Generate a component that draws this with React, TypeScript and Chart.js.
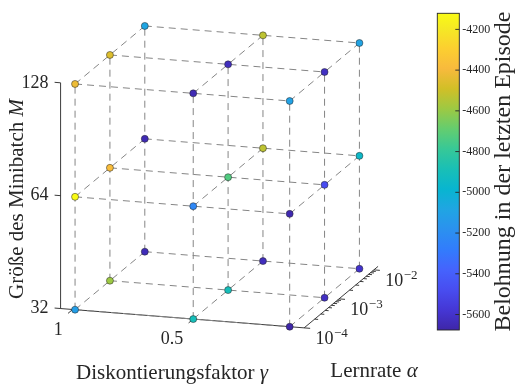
import React, { useEffect, useRef } from "react";
import { Chart, registerables } from "chart.js";
Chart.register(...registerables);

// ---------------- data ----------------
const GAMMA = [0.99, 0.5, 0.1];
const ALPHA = [1e-4, 1e-3, 1e-2];
const BATCH = [32, 64, 128];
// reward, ordered gamma-major then alpha (g0a0, g0a1, g0a2, g1a0, ...)
const REWARD_M32 = [-5120, -4590, -5640, -4900, -4900, -5630, -5676, -5620, -5600];
const REWARD_M64 = [-4121, -4380, -5650, -5230, -4730, -4530, -5660, -5480, -4950];
const REWARD_M128 = [-4420, -4460, -5080, -5650, -5630, -4530, -5100, -5620, -5090];
const REWARD_BY_BATCH = [REWARD_M32, REWARD_M64, REWARD_M128];

const GAMMA_TICKS = [1, 0.5];
const GAMMA_TICK_LABELS = ["1", "0.5"];
const ALPHA_TICKS = [1e-4, 1e-3, 1e-2];
const ALPHA_TICK_EXP = ["\u22124", "\u22123", "\u22122"];
const BATCH_TICKS = [32, 64, 128];
const CBAR_TICKS = [-5600, -5400, -5200, -5000, -4800, -4600, -4400, -4200];
const CBAR_MIN = -5676;
const CBAR_MAX = -4121;

// ---------------- axes geometry ----------------
const G_LIM = [0.04, 1.05];
const A_LIM = [-4, -1.88]; // log10
const M_LIM = [5, 7]; // log2
const ORIGIN = { x: 57, y: 311.3 }; // corner at (gamma max, alpha min, M min)
const G_DIR = { x: 245.5, y: 19.6 }; // per unit of gamma decrease
const A_DIR = { x: 35.5, y: -29.7 }; // per decade of alpha
const M_DIR = { x: 0, y: -115.6 }; // per octave of M

const W = 519;
const H = 389;
const SERIF = "'Liberation Serif', 'Times New Roman', serif";
const TXT = "#262626";

function project(g: number, a: number, m: number) {
  const dg = G_LIM[1] - g;
  const da = Math.log10(a) - A_LIM[0];
  const dm = Math.log2(m) - M_LIM[0];
  return {
    x: ORIGIN.x + dg * G_DIR.x + da * A_DIR.x + dm * M_DIR.x,
    y: ORIGIN.y + dg * G_DIR.y + da * A_DIR.y + dm * M_DIR.y,
  };
}

const PARULA: [number, number, number, number][] = [
  [0, 0.2422, 0.1504, 0.6603],
  [4, 0.2706, 0.2147, 0.8364],
  [8, 0.2813, 0.3006, 0.9414],
  [12, 0.2699, 0.3892, 0.9906],
  [16, 0.1963, 0.4847, 0.9892],
  [20, 0.1687, 0.5703, 0.9359],
  [24, 0.1248, 0.6459, 0.8883],
  [28, 0.0297, 0.7082, 0.8163],
  [32, 0.0964, 0.75, 0.712],
  [36, 0.2161, 0.7843, 0.5923],
  [40, 0.3909, 0.8029, 0.4354],
  [44, 0.6174, 0.7876, 0.2612],
  [48, 0.8203, 0.7498, 0.1535],
  [52, 0.9728, 0.7298, 0.2394],
  [56, 0.9892, 0.8136, 0.1885],
  [60, 0.9597, 0.9135, 0.1423],
  [63, 0.9769, 0.9839, 0.0805],
];

function parula(t: number) {
  const s = Math.max(0, Math.min(1, t)) * 63;
  for (let i = 0; i < PARULA.length - 1; i++) {
    const a = PARULA[i];
    const b = PARULA[i + 1];
    if (s <= b[0]) {
      const f = (s - a[0]) / (b[0] - a[0]);
      const c = [1, 2, 3].map((k) => Math.round(255 * (a[k] + (b[k] - a[k]) * f)));
      return `rgb(${c[0]},${c[1]},${c[2]})`;
    }
  }
  const l = PARULA[PARULA.length - 1];
  return `rgb(${Math.round(l[1] * 255)},${Math.round(l[2] * 255)},${Math.round(l[3] * 255)})`;
}

function colorOf(v: number) {
  return parula((v - CBAR_MIN) / (CBAR_MAX - CBAR_MIN));
}

function unit(v: { x: number; y: number }) {
  const l = Math.hypot(v.x, v.y);
  return { x: v.x / l, y: v.y / l };
}

type Part = { text: string; italic?: boolean };
function drawRich(
  ctx: CanvasRenderingContext2D,
  parts: Part[],
  x: number,
  y: number,
  size: number,
  rot: number
) {
  ctx.save();
  ctx.translate(x, y);
  ctx.rotate(rot);
  ctx.textBaseline = "middle";
  ctx.textAlign = "left";
  ctx.fillStyle = TXT;
  const fonts = parts.map((p) => `${p.italic ? "italic " : ""}${size}px ${SERIF}`);
  let total = 0;
  const widths = parts.map((p, i) => {
    ctx.font = fonts[i];
    const w = ctx.measureText(p.text).width;
    total += w;
    return w;
  });
  let cx = -total / 2;
  parts.forEach((p, i) => {
    ctx.font = fonts[i];
    ctx.fillText(p.text, cx, 0);
    cx += widths[i];
  });
  ctx.restore();
}

function buildMainConfig(): any {
  const lineDs: any[] = [];
  const lineStyle = {
    showLine: true,
    borderColor: "#858585",
    borderWidth: 1,
    borderDash: [7, 5],
    pointRadius: 0,
    fill: false,
    order: 2,
  };
  BATCH.forEach((m) => {
    ALPHA.forEach((a) => lineDs.push({ ...lineStyle, data: GAMMA.map((g) => project(g, a, m)) }));
    GAMMA.forEach((g) => lineDs.push({ ...lineStyle, data: ALPHA.map((a) => project(g, a, m)) }));
  });
  GAMMA.forEach((g) =>
    ALPHA.forEach((a) => lineDs.push({ ...lineStyle, data: BATCH.map((m) => project(g, a, m)) }))
  );

  const pts: { x: number; y: number }[] = [];
  const cols: string[] = [];
  BATCH.forEach((m, mi) => {
    GAMMA.forEach((g, gi) => {
      ALPHA.forEach((a, ai) => {
        pts.push(project(g, a, m));
        cols.push(colorOf(REWARD_BY_BATCH[mi][gi * ALPHA.length + ai]));
      });
    });
  });

  const axesPlugin = {
    id: "axes3d",
    beforeDatasetsDraw(chart: any) {
      const ctx = chart.ctx as CanvasRenderingContext2D;
      const sx = chart.scales.x;
      const sy = chart.scales.y;
      const px = (p: { x: number; y: number }) => ({ x: sx.getPixelForValue(p.x), y: sy.getPixelForValue(p.y) });
      const gLo = G_LIM[0], gHi = G_LIM[1];
      const aLo = Math.pow(10, A_LIM[0]), aHi = Math.pow(10, A_LIM[1]);
      const mLo = Math.pow(2, M_LIM[0]), mHi = Math.pow(2, M_LIM[1]);
      ctx.save();
      ctx.strokeStyle = TXT;
      ctx.lineWidth = 0.9;
      const seg = (p: any, q: any) => {
        ctx.beginPath();
        ctx.moveTo(p.x, p.y);
        ctx.lineTo(q.x, q.y);
        ctx.stroke();
      };
      // axis lines
      seg(px(project(gHi, aLo, mLo)), px(project(gHi, aLo, mHi)));
      seg(px(project(gHi, aLo, mLo)), px(project(gLo, aLo, mLo)));
      seg(px(project(gLo, aLo, mLo)), px(project(gLo, aHi, mLo)));
      // M ticks (pointing toward larger gamma)
      const gOut = unit({ x: -G_DIR.x, y: -G_DIR.y });
      BATCH_TICKS.forEach((m) => {
        const p = px(project(gHi, aLo, m));
        seg(p, { x: p.x + gOut.x * 6, y: p.y + gOut.y * 6 });
      });
      // gamma ticks (pointing toward smaller alpha)
      const aOut = unit({ x: -A_DIR.x, y: -A_DIR.y });
      GAMMA_TICKS.forEach((g) => {
        const p = px(project(g, aLo, mLo));
        seg(p, { x: p.x + aOut.x * 6, y: p.y + aOut.y * 6 });
      });
      // alpha ticks (pointing toward smaller gamma), major + minor
      const gIn = unit(G_DIR);
      for (let d = A_LIM[0]; d <= Math.ceil(A_LIM[1]); d++) {
        for (let k = 1; k <= 9; k++) {
          const a = k * Math.pow(10, d);
          if (Math.log10(a) > A_LIM[1] + 1e-9 || Math.log10(a) < A_LIM[0] - 1e-9) continue;
          const len = k === 1 ? 6 : 3.5;
          const p = px(project(gLo, a, mLo));
          seg(p, { x: p.x + gIn.x * len, y: p.y + gIn.y * len });
        }
      }
      ctx.restore();
    },
    afterDraw(chart: any) {
      const ctx = chart.ctx as CanvasRenderingContext2D;
      const sx = chart.scales.x;
      const sy = chart.scales.y;
      const px = (p: { x: number; y: number }) => ({ x: sx.getPixelForValue(p.x), y: sy.getPixelForValue(p.y) });
      const gLo = G_LIM[0], gHi = G_LIM[1];
      const aLo = Math.pow(10, A_LIM[0]);
      const mLo = Math.pow(2, M_LIM[0]);
      ctx.save();
      ctx.fillStyle = TXT;
      ctx.textBaseline = "middle";
      // M tick labels
      ctx.font = `18px ${SERIF}`;
      ctx.textAlign = "right";
      BATCH_TICKS.forEach((m) => {
        const p = px(project(gHi, aLo, m));
        ctx.fillText(String(m), p.x - 12, p.y);
      });
      // gamma tick labels
      GAMMA_TICKS.forEach((g, i) => {
        const p = px(project(g, aLo, mLo));
        ctx.fillText(GAMMA_TICK_LABELS[i], p.x - 10, p.y + 20.5);
      });
      // alpha tick labels
      ctx.textAlign = "left";
      ALPHA_TICKS.forEach((a, i) => {
        const p = px(project(gLo, a, mLo));
        ctx.font = `18px ${SERIF}`;
        const bx = p.x + 11.3;
        const by = p.y + 11.5;
        ctx.fillText("10", bx, by);
        const w = ctx.measureText("10").width;
        ctx.font = `13px ${SERIF}`;
        ctx.fillText(ALPHA_TICK_EXP[i], bx + w + 0.5, by - 5.5);
      });
      ctx.restore();
      // axis titles
      drawRich(ctx, [{ text: "Diskontierungsfaktor " }, { text: "\u03b3", italic: true }], 172, 373, 21, 0);
      drawRich(ctx, [{ text: "Lernrate " }, { text: "\u03b1", italic: true }], 374, 371, 21, 0);
      drawRich(ctx, [{ text: "Gr\u00f6\u00dfe des Minibatch " }, { text: "M", italic: true }], 17.5, 199, 21, -Math.PI / 2);
    },
  };

  return {
    type: "scatter",
    data: {
      datasets: [
        {
          data: pts,
          showLine: false,
          pointRadius: 3.5,
          pointBackgroundColor: cols,
          pointBorderColor: "rgba(35,35,35,0.85)",
          pointBorderWidth: 0.6,
          order: 0,
        },
        ...lineDs,
      ],
    },
    options: {
      animation: false,
      responsive: false,
      events: [],
      layout: { padding: 0 },
      plugins: { legend: { display: false }, tooltip: { enabled: false } },
      scales: {
        x: { type: "linear", min: 0, max: W, display: false },
        y: { type: "linear", min: 0, max: H, reverse: true, display: false },
      },
    },
    plugins: [axesPlugin],
  };
}

function buildColorbarConfig(): any {
  const cbPlugin = {
    id: "cbar",
    beforeDatasetsDraw(chart: any) {
      const ctx = chart.ctx as CanvasRenderingContext2D;
      const ca = chart.chartArea;
      const sy = chart.scales.y;
      const yMin = sy.getPixelForValue(CBAR_MIN);
      const yMax = sy.getPixelForValue(CBAR_MAX);
      const grad = ctx.createLinearGradient(0, yMin, 0, yMax);
      PARULA.forEach((c) => {
        grad.addColorStop(c[0] / 63, `rgb(${Math.round(c[1] * 255)},${Math.round(c[2] * 255)},${Math.round(c[3] * 255)})`);
      });
      ctx.save();
      ctx.fillStyle = grad;
      ctx.fillRect(ca.left, yMax, ca.right - ca.left, yMin - yMax);
      ctx.strokeStyle = TXT;
      ctx.lineWidth = 0.9;
      ctx.strokeRect(ca.left, yMax, ca.right - ca.left, yMin - yMax);
      CBAR_TICKS.forEach((v) => {
        const y = sy.getPixelForValue(v);
        ctx.beginPath();
        ctx.moveTo(ca.right - 4, y);
        ctx.lineTo(ca.right, y);
        ctx.stroke();
      });
      ctx.restore();
    },
    afterDraw(chart: any) {
      drawRich(chart.ctx, [{ text: "Belohnung in der letzten Episode" }], 73.5, 171.5, 24, -Math.PI / 2);
    },
  };
  return {
    type: "scatter",
    data: { datasets: [{ data: [] }] },
    options: {
      animation: false,
      responsive: false,
      events: [],
      layout: { padding: { left: 7.3, top: 13.3, bottom: 59, right: 0 } },
      plugins: { legend: { display: false }, tooltip: { enabled: false } },
      scales: {
        x: { type: "linear", min: 0, max: 1, display: false },
        y: {
          type: "linear",
          position: "right",
          min: CBAR_MIN,
          max: CBAR_MAX,
          afterBuildTicks: (s: any) => {
            s.ticks = CBAR_TICKS.map((v) => ({ value: v }));
          },
          afterFit: (s: any) => {
            s.width = 89 - 7.3 - 22;
          },
          grid: { display: false, drawTicks: false },
          border: { display: false },
          ticks: {
            autoSkip: false,
            padding: 3,
            color: TXT,
            font: { family: SERIF, size: 12 },
            callback: (v: any) => String(v),
          },
        },
      },
    },
    plugins: [cbPlugin],
  };
}

export default function App() {
  const mainRef = useRef<HTMLCanvasElement>(null);
  const cbRef = useRef<HTMLCanvasElement>(null);
  useEffect(() => {
    const c1 = new Chart(mainRef.current as HTMLCanvasElement, buildMainConfig());
    const c2 = new Chart(cbRef.current as HTMLCanvasElement, buildColorbarConfig());
    return () => {
      c1.destroy();
      c2.destroy();
    };
  }, []);
  return (
    <div style={{ position: "absolute", left: 0, top: 0, width: W, height: H, background: "#fff" }}>
      <canvas ref={mainRef} width={W} height={H} style={{ position: "absolute", left: 0, top: 0 }} />
      <canvas ref={cbRef} width={89} height={H} style={{ position: "absolute", left: 430, top: 0 }} />
    </div>
  );
}
